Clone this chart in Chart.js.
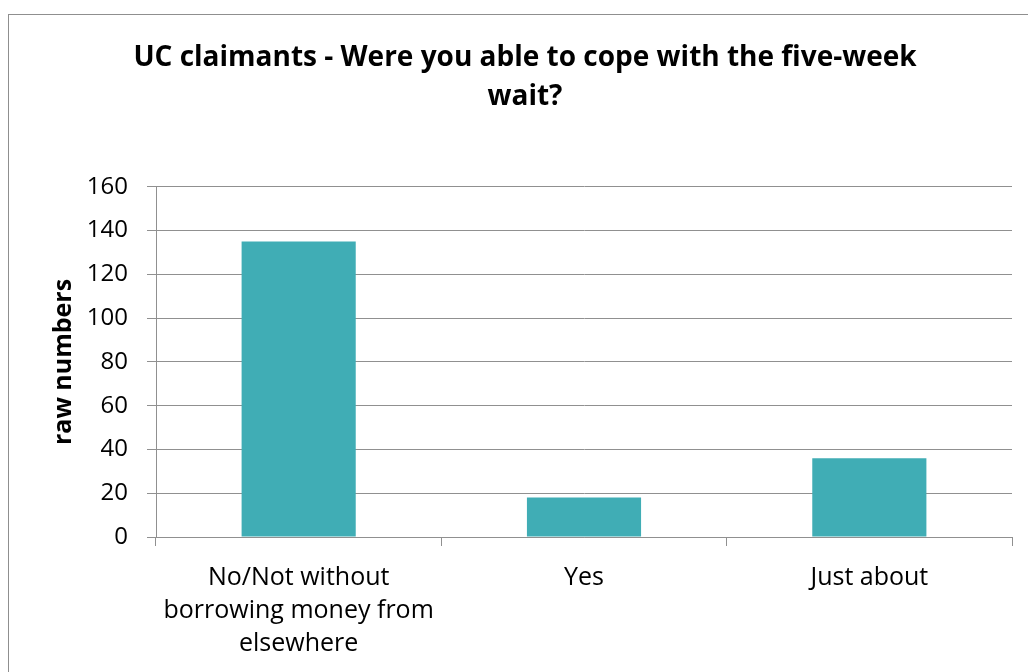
<!DOCTYPE html>
<html>
<head>
<meta charset="utf-8">
<script src="https://cdn.jsdelivr.net/npm/chart.js@4/dist/chart.umd.min.js"></script>
<style>
  html, body { margin: 0; padding: 0; background: #fff; overflow: hidden; }
  #frame { position: absolute; left: 8px; top: 14px; width: 1100px; height: 700px; border: 1px solid #8f8f8f; }
  #wrap { position: absolute; left: 0; top: 0; width: 1028px; height: 672px; }
</style>
</head>
<body>
<div id="frame"></div>
<div id="wrap"><canvas id="chart"></canvas></div>
<script>
// categories and counts
const categories = [
    ['No/Not without', 'borrowing money from', 'elsewhere'],
    'Yes',
    'Just about'
];
const counts = [135, 18, 36];
const yTicks = [0, 20, 40, 60, 80, 100, 120, 140, 160];

const barColor = '#40adb5';
const gridColor = '#909090';
const fontFamily = '"Open Sans", "Noto Sans", sans-serif';

new Chart(document.querySelector('#chart').getContext('2d'), {
    type: 'bar',
    data: {
        labels: categories,
        datasets: [{
            label: 'raw numbers',
            data: counts,
            backgroundColor: barColor,
            borderWidth: 0,
            barPercentage: 0.4,
            categoryPercentage: 1
        }]
    },
    options: {
        responsive: true,
        maintainAspectRatio: false,
        animation: false,
        // extra left padding keeps the title centred where the original has it
        layout: { padding: { left: 38, right: 16, top: 0, bottom: 0 } },
        plugins: {
            legend: { display: false },
            tooltip: { enabled: false },
            title: {
                display: true,
                text: ['UC claimants - Were you able to cope with the five-week', 'wait?'],
                color: '#000',
                font: { family: fontFamily, size: 28, weight: 'bold', lineHeight: 1.39 },
                padding: { top: 39, bottom: 70 }
            }
        },
        scales: {
            x: {
                grid: {
                    drawOnChartArea: false,
                    drawTicks: true,
                    tickLength: 9,
                    color: gridColor,
                    offset: true
                },
                border: { color: gridColor },
                ticks: {
                    color: '#000',
                    padding: 15,
                    maxRotation: 0,
                    font: { family: fontFamily, size: 25, lineHeight: 1.32 }
                },
                afterFit: scale => { scale.height = 135; }
            },
            y: {
                min: 0,
                max: 160,
                afterBuildTicks: scale => { scale.ticks = yTicks.map(v => ({ value: v })); },
                grid: { color: gridColor, tickLength: 9 },
                border: { color: gridColor },
                ticks: {
                    color: '#000',
                    padding: 19,
                    font: { family: fontFamily, size: 24 }
                },
                title: {
                    display: true,
                    text: 'raw numbers',
                    color: '#000',
                    font: { family: fontFamily, size: 25, weight: 'bold', lineHeight: 1.2 },
                    padding: { top: 11, bottom: 0 }
                },
                afterFit: scale => { scale.width = 118; }
            }
        }
    }
});
</script>
</body>
</html>
